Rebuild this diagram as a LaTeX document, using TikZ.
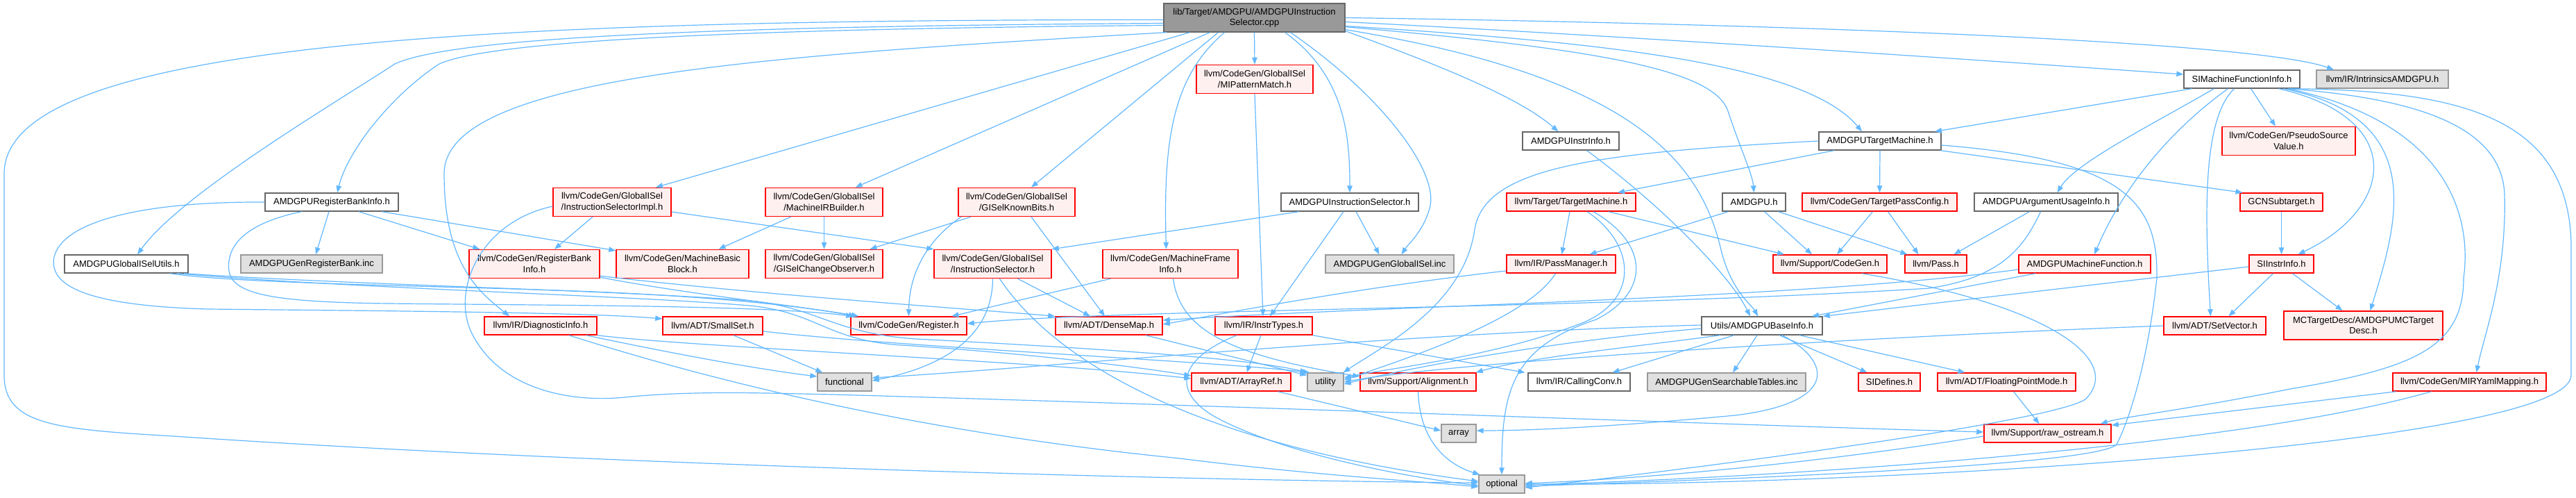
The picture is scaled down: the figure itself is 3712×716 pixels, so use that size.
\documentclass[tikz,border=0pt]{standalone}
\usepackage{fontspec}
\setmainfont{Liberation Sans}
\usetikzlibrary{arrows.meta}
\definecolor{edgec}{HTML}{63B8FF}
\definecolor{redfill}{HTML}{FFF0F0}
\definecolor{dred}{HTML}{FF0000}
\definecolor{grayfill}{HTML}{E0E0E0}
\definecolor{graydraw}{HTML}{999999}
\definecolor{darkdraw}{HTML}{666666}
\definecolor{rootfill}{HTML}{999999}
\begin{document}
\begin{tikzpicture}[x=1pt,y=-1pt,
  font=\fontsize{13}{15.5}\selectfont,
  box/.style={rectangle, inner sep=0pt, align=center, text=black},
  rbox/.style={box, draw=dred, fill=redfill, line width=1.5pt},
  wbox/.style={box, draw=darkdraw, fill=white, line width=1.3pt},
  gbox/.style={box, draw=graydraw, fill=grayfill, line width=1.3pt},
  one/.style={minimum height=26pt},
  two/.style={minimum height=41pt},
  lnk/.style={draw=edgec, line width=1.2pt, -{Triangle[length=10pt,width=7.5pt]}}]
\fill[white] (0,0) rectangle (3712,716);
\useasboundingbox (0,0) rectangle (3712,716);

% ---------- nodes ----------
\node[box,two,minimum width=261pt,fill=rootfill,draw=darkdraw,line width=1.3pt] (root) at (1807.5,25.5) {lib/Target/AMDGPU/AMDGPUInstruction\\Selector.cpp};
\node[rbox,two,minimum width=168pt] (mipm) at (1808,114) {llvm/CodeGen/GlobalISel\\/MIPatternMatch.h};
\node[wbox,one,minimum width=167pt] (simfi) at (3230.5,114) {SIMachineFunctionInfo.h};
\node[gbox,one,minimum width=190pt] (intr) at (3433,114) {llvm/IR/IntrinsicsAMDGPU.h};
\node[wbox,one,minimum width=139pt] (instrinfo) at (2263.5,203) {AMDGPUInstrInfo.h};
\node[wbox,one,minimum width=176pt] (amdtm) at (2709,203) {AMDGPUTargetMachine.h};
\node[rbox,two,minimum width=192pt] (pseudo) at (3298,203) {llvm/CodeGen/PseudoSource\\Value.h};
\node[wbox,one,minimum width=192pt] (rbi) at (478,291) {AMDGPURegisterBankInfo.h};
\node[rbox,two,minimum width=170pt] (iselimpl) at (882,291) {llvm/CodeGen/GlobalISel\\/InstructionSelectorImpl.h};
\node[rbox,two,minimum width=169pt] (mirb) at (1187.5,291) {llvm/CodeGen/GlobalISel\\/MachineIRBuilder.h};
\node[rbox,two,minimum width=168pt] (kb) at (1465,291) {llvm/CodeGen/GlobalISel\\/GISelKnownBits.h};
\node[wbox,one,minimum width=198pt] (aisel) at (1945,291) {AMDGPUInstructionSelector.h};
\node[rbox,one,minimum width=186pt] (tm) at (2264,291) {llvm/Target/TargetMachine.h};
\node[wbox,one,minimum width=91pt] (amdgpu) at (2527.5,291) {AMDGPU.h};
\node[rbox,one,minimum width=223pt] (tpc) at (2708.5,291) {llvm/CodeGen/TargetPassConfig.h};
\node[wbox,one,minimum width=207pt] (argu) at (2948.5,291) {AMDGPUArgumentUsageInfo.h};
\node[rbox,one,minimum width=119pt] (gcn) at (3287.5,291) {GCNSubtarget.h};
\node[wbox,one,minimum width=178pt] (gisu) at (182,380) {AMDGPUGlobalISelUtils.h};
\node[gbox,one,minimum width=204pt] (genrb) at (449,380) {AMDGPUGenRegisterBank.inc};
\node[rbox,two,minimum width=188pt] (rbinfo) at (770,380) {llvm/CodeGen/RegisterBank\\Info.h};
\node[rbox,two,minimum width=191pt] (mbb) at (983.5,380) {llvm/CodeGen/MachineBasic\\Block.h};
\node[rbox,two,minimum width=169pt] (gco) at (1187.5,380) {llvm/CodeGen/GlobalISel\\/GISelChangeObserver.h};
\node[rbox,two,minimum width=169pt] (isel) at (1430.5,380) {llvm/CodeGen/GlobalISel\\/InstructionSelector.h};
\node[rbox,two,minimum width=195pt] (mfi) at (1686.5,380) {llvm/CodeGen/MachineFrame\\Info.h};
\node[gbox,one,minimum width=185pt] (genisel) at (2002.5,380) {AMDGPUGenGlobalISel.inc};
\node[rbox,one,minimum width=157pt] (pm) at (2249.5,380) {llvm/IR/PassManager.h};
\node[rbox,one,minimum width=164pt] (scg) at (2637,380) {llvm/Support/CodeGen.h};
\node[rbox,one,minimum width=89pt] (pass) at (2789.5,380) {llvm/Pass.h};
\node[rbox,one,minimum width=190pt] (amf) at (3004,380) {AMDGPUMachineFunction.h};
\node[rbox,one,minimum width=93pt] (siii) at (3287.5,380) {SIInstrInfo.h};
\node[rbox,one,minimum width=162pt] (diag) at (779,469) {llvm/IR/DiagnosticInfo.h};
\node[rbox,one,minimum width=144pt] (smallset) at (1027,469) {llvm/ADT/SmallSet.h};
\node[rbox,one,minimum width=167pt] (reg) at (1309.5,469) {llvm/CodeGen/Register.h};
\node[rbox,one,minimum width=154pt] (dmap) at (1598,469) {llvm/ADT/DenseMap.h};
\node[rbox,one,minimum width=140pt] (itypes) at (1821,469) {llvm/IR/InstrTypes.h};
\node[wbox,one,minimum width=174pt] (baseinfo) at (2539,469) {Utils/AMDGPUBaseInfo.h};
\node[rbox,one,minimum width=147pt] (setvec) at (3191.5,469) {llvm/ADT/SetVector.h};
\node[rbox,two,minimum width=229pt] (mctd) at (3405.5,468.5) {MCTargetDesc/AMDGPUMCTarget\\Desc.h};
\node[gbox,one,minimum width=78pt] (func) at (1217,550) {functional};
\node[rbox,one,minimum width=143pt] (aref) at (1788.5,550) {llvm/ADT/ArrayRef.h};
\node[gbox,one,minimum width=52pt] (util) at (1910,550) {utility};
\node[rbox,one,minimum width=167pt] (align) at (2043.5,550) {llvm/Support/Alignment.h};
\node[wbox,one,minimum width=147pt] (cconv) at (2275.5,550) {llvm/IR/CallingConv.h};
\node[gbox,one,minimum width=228pt] (gst) at (2488,550) {AMDGPUGenSearchableTables.inc};
\node[rbox,one,minimum width=89pt] (sidef) at (2722.5,550) {SIDefines.h};
\node[rbox,one,minimum width=199pt] (fpm) at (2891.5,550) {llvm/ADT/FloatingPointMode.h};
\node[rbox,one,minimum width=221pt] (miry) at (3558.5,550) {llvm/CodeGen/MIRYamlMapping.h};
\node[gbox,one,minimum width=50pt] (array) at (2102,624) {array};
\node[rbox,one,minimum width=183pt] (raw) at (2950.5,624) {llvm/Support/raw\_ostream.h};
\node[gbox,one,minimum width=66pt] (opt) at (2164,697) {optional};

% ---------- edges from root ----------
\draw[lnk] ([yshift=-3pt]root.west) .. controls (700,28) and (6,60) .. (6,250) -- (6,540) .. controls (6,612) and (80,618) .. (250,628) .. controls (900,672) and (1800,693) .. ([yshift=2pt]opt.west);
\draw[lnk] ([yshift=-8pt]root.west) .. controls (1000,38) and (650,55) .. (569,92) .. controls (480,150) and (260,280) .. ([xshift=16pt]gisu.north);
\draw[lnk] ([yshift=-11pt]root.west) .. controls (1000,42) and (700,62) .. (633,92) .. controls (560,140) and (500,220) .. ([xshift=8pt]rbi.north);
\draw[lnk] ([xshift=5pt]root.south west) .. controls (1100,80) and (640,110) .. (640,250) .. controls (640,380) and (690,420) .. ([xshift=-45pt]diag.north);
\draw[lnk] ([xshift=-93pt]root.south) -- ([xshift=63pt]iselimpl.north);
\draw[lnk] ([xshift=-64pt]root.south) -- ([xshift=45pt]mirb.north);
\draw[lnk] ([xshift=-52pt]root.south) -- ([xshift=21pt]kb.north);
\draw[lnk] ([xshift=-43pt]root.south) .. controls (1690,110) and (1676,200) .. ([xshift=-6pt]mfi.north);
\draw[lnk] (root.south) -- (mipm.north);
\draw[lnk] ([xshift=44pt]root.south) .. controls (1940,110) and (1945,200) .. (aisel.north);
\draw[lnk] ([xshift=52pt]root.south) .. controls (1995,140) and (2075,250) .. (2060,300) .. controls (2050,335) and (2030,350) .. ([xshift=17pt]genisel.north);
\draw[lnk] ([yshift=2pt]root.south east) .. controls (2120,110) and (2200,150) .. ([xshift=-18pt]instrinfo.north);
\draw[lnk] ([yshift=4pt]root.south east) .. controls (2350,110) and (2450,230) .. (2480,360) .. controls (2495,420) and (2525,440) .. ([xshift=-6pt]baseinfo.north);
\draw[lnk] ([yshift=8pt]root.south east) .. controls (2300,70) and (2470,100) .. (2490,160) .. controls (2510,220) and (2525,250) .. (amdgpu.north);
\draw[lnk] ([yshift=-12pt]root.east) .. controls (2300,60) and (2600,90) .. ([xshift=-26pt]amdtm.north);
\draw[lnk] ([yshift=-6pt]root.east) .. controls (2400,55) and (2900,90) .. ([yshift=7pt]simfi.west);
\draw[lnk] (root.east) .. controls (2600,35) and (3250,60) .. ([xshift=-70pt]intr.north);

% ---------- MIPatternMatch ----------
\draw[lnk] (mipm.south) -- ([xshift=-1pt]itypes.north);

% ---------- SIMachineFunctionInfo ----------
\draw[lnk] ([xshift=-72pt]simfi.south) -- ([xshift=79pt]amdtm.north);
\draw[lnk] ([xshift=-40pt]simfi.south) .. controls (3100,180) and (2990,235) .. ([xshift=16pt]argu.north);
\draw[lnk] ([xshift=-20pt]simfi.south) .. controls (3110,200) and (3050,290) .. ([xshift=14pt]amf.north);
\draw[lnk] ([xshift=-11pt]simfi.south) .. controls (3175,170) and (3176,300) .. ([xshift=-6pt]setvec.north);
\draw[lnk] ([xshift=13pt]simfi.south) -- ([xshift=-19pt]pseudo.north);
\draw[lnk] ([xshift=53pt]simfi.south) .. controls (3470,170) and (3450,300) .. ([xshift=24pt]siii.north);
\draw[lnk] ([xshift=60pt]simfi.south) .. controls (3500,170) and (3455,320) .. ([xshift=10pt]mctd.north);
\draw[lnk] ([xshift=66pt]simfi.south) .. controls (3545,180) and (3560,330) .. (3550,400) .. controls (3550,500) and (3480,530) .. (3300,560) .. controls (3150,590) and (3060,600) .. ([xshift=-16pt]raw.north east);
\draw[lnk] ([xshift=68pt]simfi.south) .. controls (3450,140) and (3605,170) .. (3609,280) .. controls (3612,400) and (3580,480) .. ([xshift=10pt]miry.north);
\draw[lnk] ([xshift=70pt]simfi.south) .. controls (3550,130) and (3700,170) .. (3705,350) -- (3705,540) .. controls (3705,640) and (2700,700) .. (opt.east);

% ---------- AMDGPUTargetMachine ----------
\draw[lnk] (amdtm.west) .. controls (2300,220) and (2140,240) .. (2125,330) .. controls (2110,440) and (1990,500) .. ([xshift=-1pt]util.north east);
\draw[lnk] ([xshift=-66pt]amdtm.south) -- ([xshift=67pt]tm.north);
\draw[lnk] (amdtm.south) -- (tpc.north);
\draw[lnk] ([xshift=87pt]amdtm.south) -- ([xshift=-56pt]gcn.north);
\draw[lnk] ([yshift=-6pt]amdtm.east) .. controls (3060,230) and (3110,290) .. (3108,400) .. controls (3095,520) and (3070,600) .. (3050,640) .. controls (3020,670) and (2500,690) .. ([yshift=-3pt]opt.east);

% ---------- AMDGPUInstrInfo ----------
\draw[lnk] ([xshift=23pt]instrinfo.south) .. controls (2400,300) and (2495,400) .. ([xshift=-17pt]baseinfo.north);

% ---------- TargetMachine ----------
\draw[lnk] ([xshift=-2pt]tm.south) -- ([xshift=1pt]pm.north);
\draw[lnk] ([xshift=23pt]tm.south) .. controls (2355,350) and (2365,430) .. (2280,465) .. controls (2150,515) and (2000,530) .. ([yshift=6pt]util.east);
\draw[lnk] ([xshift=32pt]tm.south) .. controls (2375,350) and (2380,420) .. (2300,460) .. controls (2180,500) and (2164,560) .. (opt.north);
\draw[lnk] ([xshift=54pt]tm.south) -- ([xshift=-66pt]scg.north);

% ---------- PassManager ----------
\draw[lnk] ([yshift=-10pt]pm.west) .. controls (1950,415) and (1760,452) .. ([yshift=2pt]dmap.east);
\draw[lnk] ([xshift=-8pt]pm.south) .. controls (2200,460) and (2030,515) .. ([yshift=3pt]util.east);

% ---------- AMDGPU.h ----------
\draw[lnk] ([xshift=-37pt]amdgpu.south) -- ([xshift=41pt]pm.north);
\draw[lnk] ([xshift=15pt]amdgpu.south) -- ([xshift=-26pt]scg.north);
\draw[lnk] ([xshift=35pt]amdgpu.south) -- ([xshift=-41pt]pass.north);

% ---------- TargetPassConfig ----------
\draw[lnk] ([xshift=-10pt]tpc.south) -- ([xshift=10pt]scg.north);
\draw[lnk] ([xshift=12pt]tpc.south) -- ([xshift=-25pt]pass.north);

% ---------- ArgumentUsageInfo ----------
\draw[lnk] ([xshift=-24pt]argu.south) -- ([xshift=26pt]pass.north);
\draw[lnk] ([xshift=-8pt]argu.south) .. controls (2915,360) and (2880,400) .. (2780,415) .. controls (2300,445) and (1600,445) .. ([yshift=3pt]reg.east);

% ---------- GCNSubtarget / SIInstrInfo ----------
\draw[lnk] (gcn.south) -- (siii.north);
\draw[lnk] ([yshift=-4pt]siii.west) -- (baseinfo.north east);
\draw[lnk] ([xshift=-12pt]siii.south) -- ([xshift=20pt]setvec.north);
\draw[lnk] ([xshift=16pt]siii.south) -- ([xshift=-30pt]mctd.north);

% ---------- AMDGPUMachineFunction ----------
\draw[lnk] ([xshift=-71pt]amf.south) -- ([xshift=72pt]baseinfo.north);
\draw[lnk] ([yshift=-8pt]amf.west) .. controls (2600,430) and (2000,440) .. ([yshift=8pt]dmap.east);

% ---------- SetVector / CodeGen.h / raw_ostream / FPM / MIRYaml ----------
\draw[lnk] (setvec.west) .. controls (2700,485) and (2100,520) .. ([yshift=0pt]util.east);
\draw[lnk] ([xshift=46pt]scg.south) .. controls (2960,440) and (3060,520) .. (3005,575) .. controls (2950,610) and (2400,680) .. ([yshift=-5pt]opt.east);
\draw[lnk] ([yshift=-4pt]raw.west) .. controls (2600,670) and (2350,690) .. ([yshift=1pt]opt.east);
\draw[lnk] ([xshift=10pt]fpm.south) -- ([xshift=-12pt]raw.north);
\draw[lnk] ([xshift=-106pt]miry.south) -- ([yshift=-2pt]raw.north east);
\draw[lnk] ([xshift=-55pt]miry.south) .. controls (3200,650) and (2500,690) .. ([yshift=-1pt]opt.east);

% ---------- Utils/AMDGPUBaseInfo ----------
\draw[lnk] ([xshift=-40pt]baseinfo.south) -- ([xshift=48pt]cconv.north);
\draw[lnk] ([xshift=-7pt]baseinfo.south) -- ([xshift=9pt]gst.north);
\draw[lnk] ([xshift=25pt]baseinfo.south) -- ([xshift=-32pt]sidef.north);
\draw[lnk] ([xshift=54pt]baseinfo.south) -- ([xshift=-60pt]fpm.north);
\draw[lnk] ([xshift=29pt]baseinfo.south) .. controls (2640,520) and (2650,580) .. (2500,598) .. controls (2350,612) and (2220,620) .. ([yshift=4pt]array.east);
\draw[lnk] ([yshift=1pt]baseinfo.west) .. controls (2000,480) and (1500,530) .. ([yshift=6pt]func.east);
\draw[lnk] ([yshift=-4pt]baseinfo.west) .. controls (2250,490) and (2050,525) .. ([yshift=-3pt]util.east);
\draw[lnk] ([xshift=-60pt]baseinfo.south) .. controls (2350,500) and (2200,515) .. ([xshift=-1pt]align.north east);

% ---------- DenseMap / InstrTypes / ArrayRef / Alignment ----------
\draw[lnk] ([xshift=53pt]dmap.south) -- ([yshift=-4pt]util.north west);
\draw[lnk] ([xshift=-4pt]itypes.south) -- ([xshift=8pt]aref.north);
\draw[lnk] ([xshift=-39pt]itypes.south) .. controls (1690,520) and (1690,570) .. (1760,605) .. controls (1870,660) and (2050,690) .. ([yshift=-2pt]opt.west);
\draw[lnk] (itypes.south east) -- ([xshift=-78pt]cconv.north);
\draw[lnk] ([xshift=53pt]aref.south) -- ([yshift=4pt]array.west);
\draw[lnk] (align.south) .. controls (2046,640) and (2090,670) .. ([xshift=2pt]opt.north west);

% ---------- InstructionSelector.h ----------
\draw[lnk] (isel.south) .. controls (1430,490) and (1350,530) .. ([yshift=2pt]func.east);
\draw[lnk] ([xshift=10pt]isel.south) .. controls (1520,520) and (1720,640) .. ([yshift=4pt]opt.west);
\draw[lnk] ([xshift=36pt]isel.south) -- ([xshift=-27pt]dmap.north);

% ---------- GISelKnownBits ----------
\draw[lnk] ([xshift=-66pt]kb.south) -- ([xshift=66pt]gco.north);
\draw[lnk] ([xshift=-80pt]kb.south) .. controls (1330,350) and (1310,400) .. (reg.north);
\draw[lnk] ([xshift=21pt]kb.south) -- ([xshift=-6pt]dmap.north);

% ---------- AMDGPUInstructionSelector.h ----------
\draw[lnk] ([xshift=-73pt]aisel.south) -- (isel.north east);
\draw[lnk] ([xshift=-9pt]aisel.south) -- ([xshift=9pt]itypes.north);
\draw[lnk] ([xshift=9pt]aisel.south) -- ([xshift=-15pt]genisel.north);

% ---------- MachineFrameInfo ----------
\draw[lnk] ([xshift=-86pt]mfi.south) -- ([xshift=62pt]reg.north);
\draw[lnk] ([xshift=4pt]mfi.south) .. controls (1700,470) and (1760,510) .. ([yshift=8pt]align.west);

% ---------- InstructionSelectorImpl ----------
\draw[lnk] ([yshift=-6pt]iselimpl.west) .. controls (690,320) and (650,420) .. (680,480) .. controls (720,560) and (820,580) .. (900,572) .. controls (1000,562) and (1100,566) .. (1200,568) .. controls (1800,585) and (2500,612) .. ([yshift=2pt]raw.west);
\draw[lnk] ([xshift=-28pt]iselimpl.south) -- ([xshift=29pt]rbinfo.north);
\draw[lnk] ([yshift=-14pt]iselimpl.east) -- (isel.north west);

% ---------- MachineIRBuilder ----------
\draw[lnk] ([xshift=-48pt]mirb.south) -- ([xshift=52pt]mbb.north);
\draw[lnk] (mirb.south) -- (gco.north);

% ---------- AMDGPURegisterBankInfo ----------
\draw[lnk] (rbi.west) .. controls (200,290) and (90,320) .. (78,370) .. controls (70,410) and (120,440) .. (300,445) .. controls (600,448) and (850,450) .. ([yshift=10pt]smallset.west);
\draw[lnk] ([xshift=-43pt]rbi.south) .. controls (360,320) and (325,350) .. (330,390) .. controls (335,425) and (400,435) .. (560,437) .. controls (850,440) and (1100,440) .. ([xshift=4pt]reg.north west);
\draw[lnk] ([xshift=-4pt]rbi.south) -- ([xshift=6pt]genrb.north);
\draw[lnk] ([xshift=39pt]rbi.south) -- ([xshift=16pt]rbinfo.north west);
\draw[lnk] ([xshift=72pt]rbi.south) -- ([yshift=-2pt]mbb.north west);

% ---------- AMDGPUGlobalISelUtils ----------
\draw[lnk] ([xshift=63pt]gisu.south) .. controls (350,410) and (700,412) .. (900,422) .. controls (1050,430) and (1150,440) .. ([xshift=8pt]reg.north west);
\draw[lnk] ([xshift=73pt]gisu.south) .. controls (500,415) and (900,425) .. (1080,440) .. controls (1180,450) and (1190,490) .. (1300,497) .. controls (1500,510) and (1650,530) .. ([yshift=9pt]aref.west);
\draw[lnk] ([xshift=83pt]gisu.south) .. controls (500,410) and (900,418) .. (1080,433) .. controls (1180,443) and (1200,480) .. (1320,488) .. controls (1550,500) and (1800,515) .. (util.north west);

% ---------- DiagnosticInfo ----------
\draw[lnk] ([xshift=66pt]diag.south) .. controls (950,505) and (1080,530) .. ([yshift=8pt]func.west);
\draw[lnk] (diag.south east) .. controls (1000,500) and (1500,520) .. ([yshift=5pt]aref.west);
\draw[lnk] ([xshift=41pt]diag.south) .. controls (1000,540) and (1300,620) .. (1700,660) .. controls (1900,685) and (2050,693) .. ([yshift=-4pt]opt.west);

% ---------- SmallSet ----------
\draw[lnk] ([xshift=30pt]smallset.south) -- ([xshift=8pt]func.north west);
\draw[lnk] ([yshift=-8pt]smallset.east) .. controls (1300,500) and (1750,520) .. ([xshift=4pt]util.north west);

% ---------- llvm/CodeGen/RegisterBankInfo ----------
\draw[lnk] ([yshift=2pt]rbinfo.south east) .. controls (1000,425) and (1150,440) .. ([xshift=12pt]reg.north west);
\draw[lnk] ([yshift=4pt]rbinfo.south east) .. controls (1100,425) and (1400,445) .. (dmap.north west);
\end{tikzpicture}
\end{document}
